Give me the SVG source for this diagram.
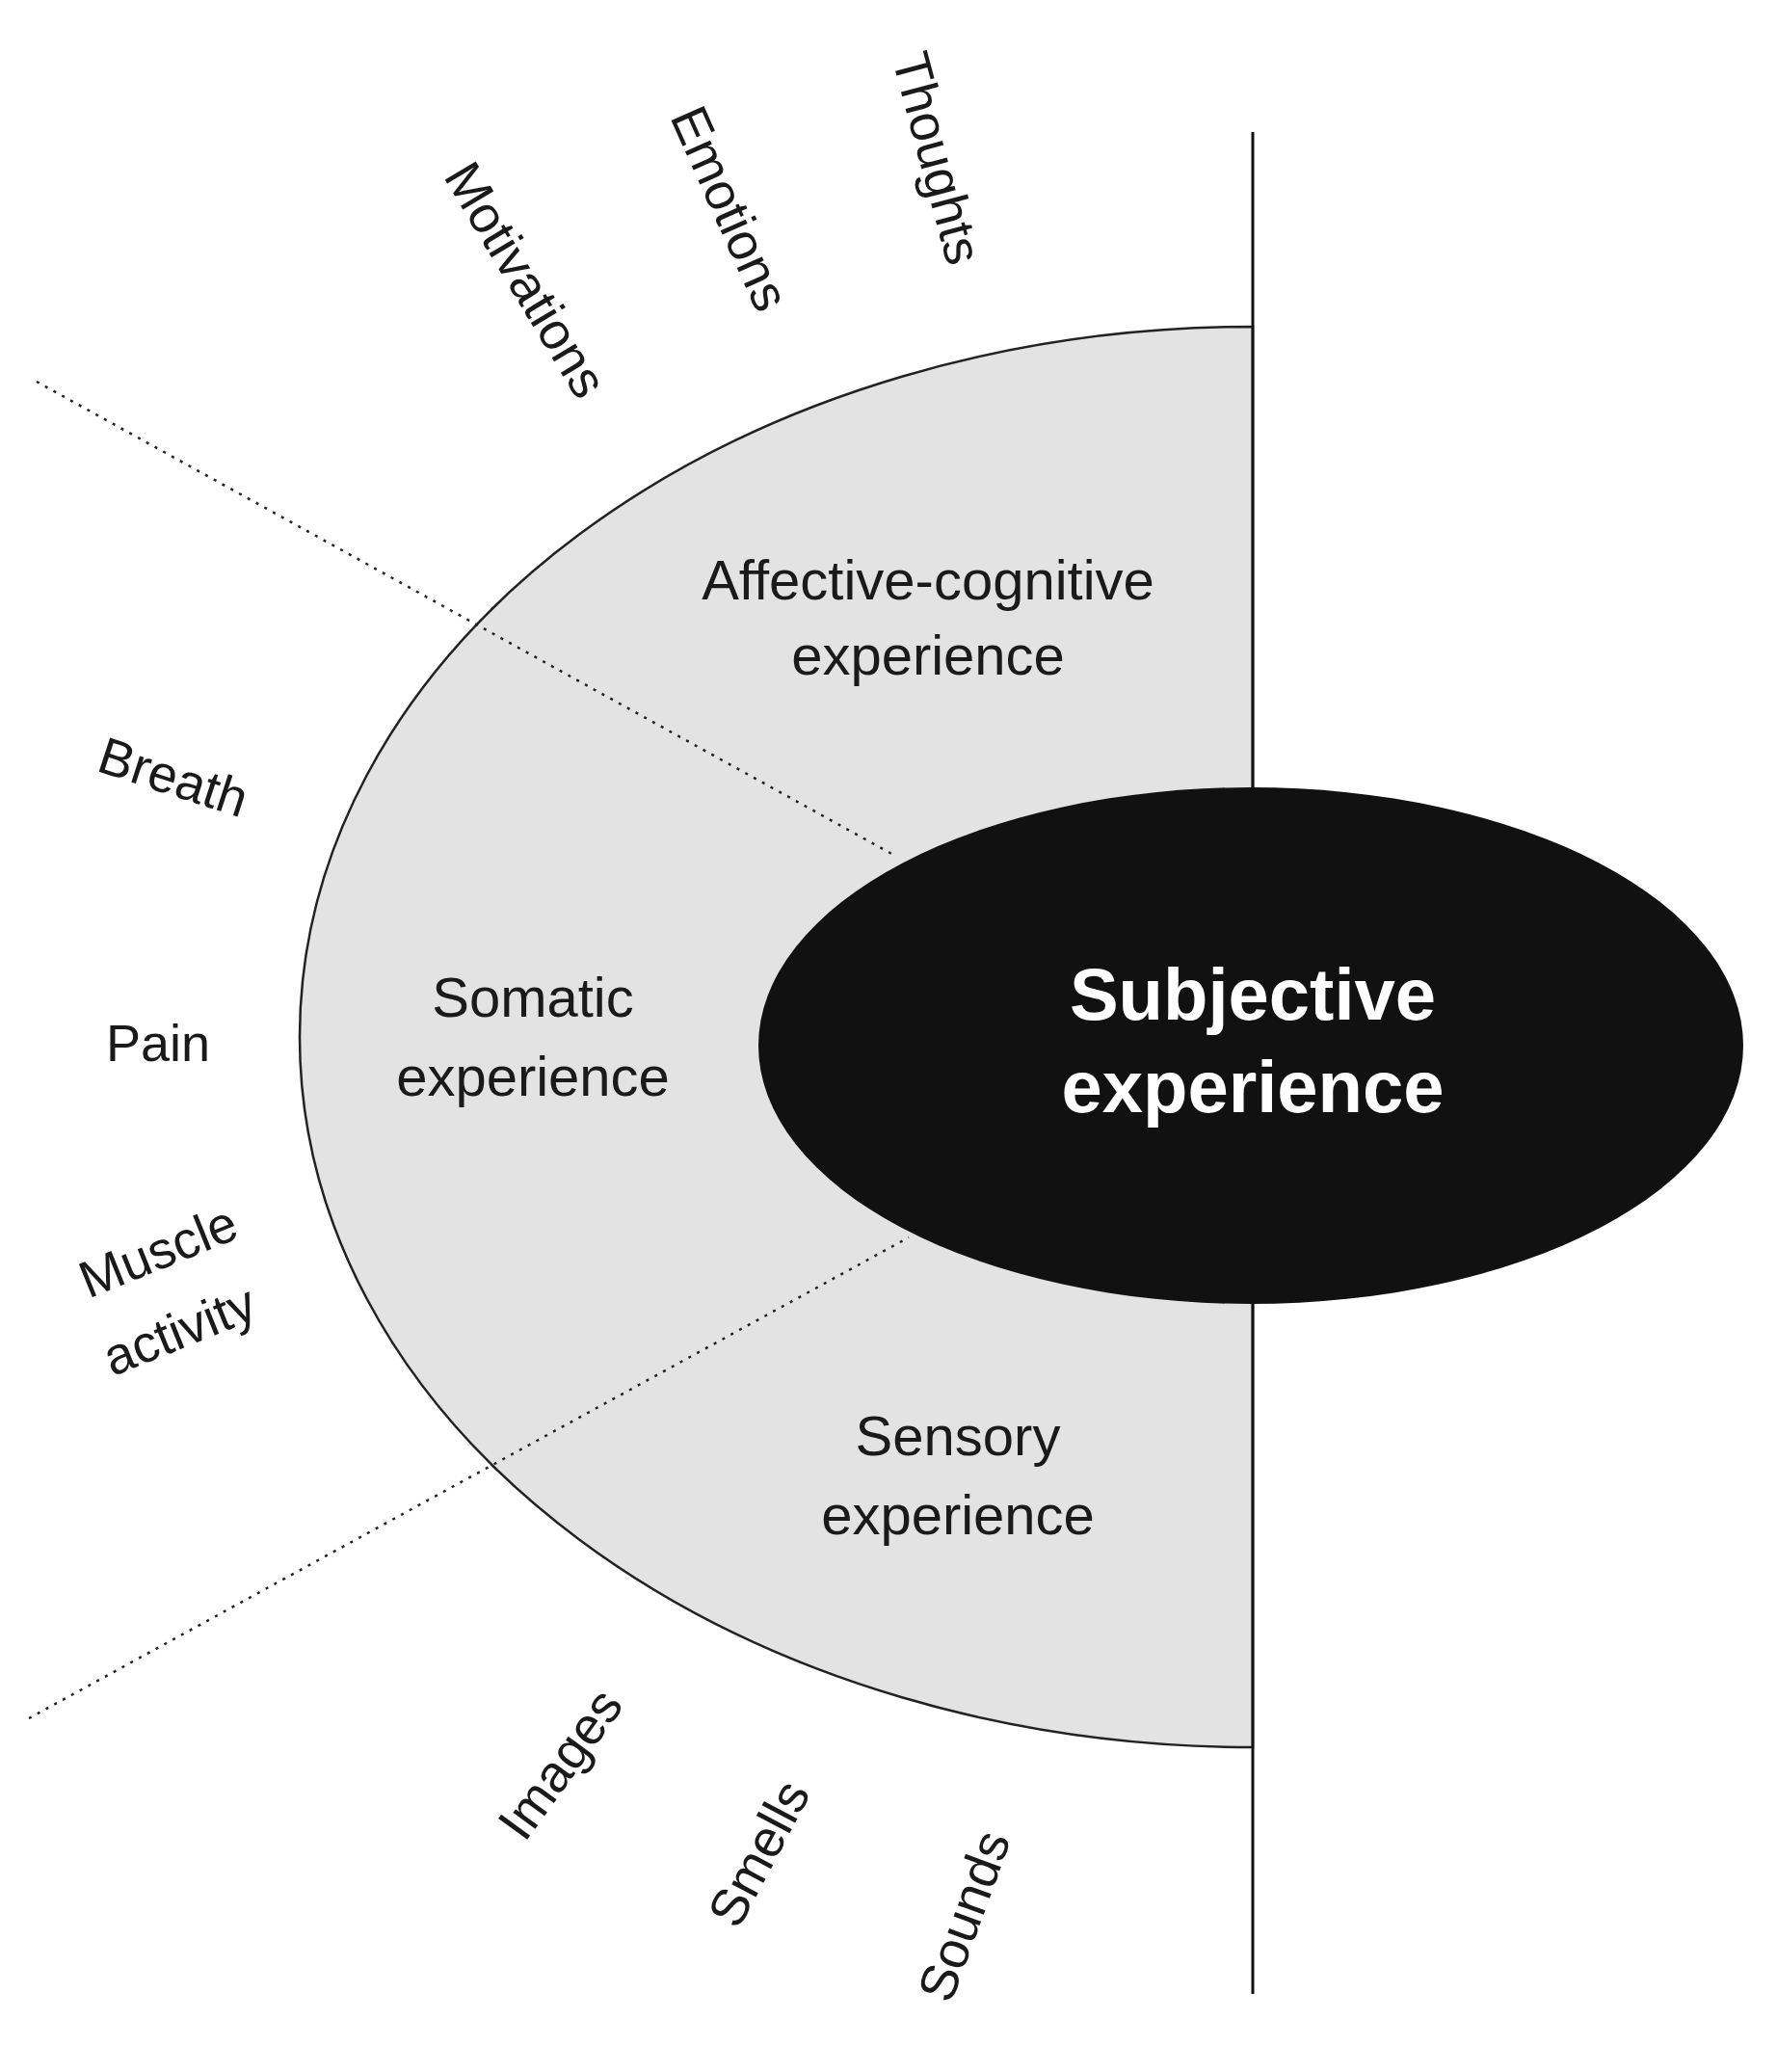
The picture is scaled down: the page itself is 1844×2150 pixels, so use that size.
<svg xmlns="http://www.w3.org/2000/svg" width="1844" height="2150" viewBox="0 0 1844 2150">
<style>
text{font-family:"Liberation Sans",Arial,sans-serif;fill:#1a1a1a;text-anchor:middle;dominant-baseline:central}
.r{font-size:58px}
.s{font-size:54px}
.b{font-size:76px;font-weight:bold;fill:#fff}
</style>
<rect width="1844" height="2150" fill="#fff"/>
<g id="region">
<path d="M1300,339 A989,737 0 0 0 1300,1813 Z" fill="#e3e3e3" stroke="#222" stroke-width="2.5"/>
</g>
<g id="connectors">
<line x1="38" y1="396" x2="929" y2="888" stroke="#222" stroke-width="2.5" stroke-dasharray="3,7"/>
<line x1="30" y1="1783" x2="943" y2="1284" stroke="#222" stroke-width="2.5" stroke-dasharray="3,7"/>
<line x1="1300" y1="137" x2="1300" y2="2069" stroke="#111" stroke-width="3"/>
</g>
<g id="subjective">
<ellipse cx="1298" cy="1085" rx="511" ry="268" fill="#111"/>
<text class="b" x="1300" y="1031">Subjective</text>
<text class="b" x="1300" y="1127">experience</text>
</g>
<g id="affective"><text class="r" x="963" y="601">Affective-cognitive</text><text class="r" x="963" y="679">experience</text></g>
<g id="somatic"><text class="r" x="553" y="1034">Somatic</text><text class="r" x="553" y="1116">experience</text></g>
<g id="sensory"><text class="r" x="994" y="1489">Sensory</text><text class="r" x="994" y="1571">experience</text></g>
<g id="labels">
<text class="s" transform="translate(973,164) rotate(75)">Thoughts</text>
<text class="s" transform="translate(758,216) rotate(66)">Emotions</text>
<text class="s" transform="translate(546,290) rotate(59)">Motivations</text>
<text class="s" transform="translate(180,806) rotate(18)">Breath</text>
<text class="s" x="164" y="1082">Pain</text>
<text class="s" transform="translate(164,1298) rotate(-22)">Muscle</text>
<text class="s" transform="translate(186,1380) rotate(-22)">activity</text>
<text class="s" transform="translate(581,1830) rotate(-54)">Images</text>
<text class="s" transform="translate(787,1923) rotate(-62)">Smells</text>
<text class="s" transform="translate(1000,1988) rotate(-70)">Sounds</text>
</g>
</svg>
